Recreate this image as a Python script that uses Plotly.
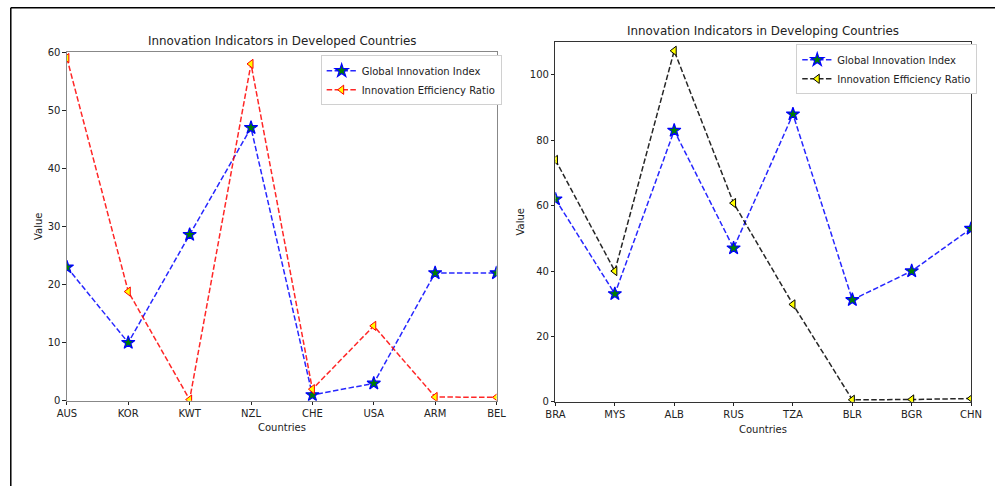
import plotly.graph_objects as go

W, H = 1006, 492

dev_countries = ["AUS", "KOR", "KWT", "NZL", "CHE", "USA", "ARM", "BEL"]
dev_gii = [23, 10, 28.6, 47, 1, 3, 22, 22]
dev_ier = [59, 18.8, 0.2, 58, 2, 12.9, 0.65, 0.6]

dvg_countries = ["BRA", "MYS", "ALB", "RUS", "TZA", "BLR", "BGR", "CHN"]
dvg_gii = [62, 33, 83, 47, 88, 31.2, 40, 53]
dvg_ier = [74, 40, 107.4, 60.8, 29.8, 0.6, 0.7, 1.0]

left_yticks = [0, 10, 20, 30, 40, 50, 60]
right_yticks = [0, 20, 40, 60, 80, 100]

FONT = "DejaVu Sans"
SX, SY = 0.98, 0.977  # observed capture scaling about the window centre


def px(x):
    p = W / 2 + (x - W / 2) / SX
    return min(max(p / W, 0), 1)


def py(y):
    p = H / 2 + (y - H / 2) / SY
    return min(max(1 - p / H, 0), 1)


fig = go.Figure()

dash = "5.5px,2.4px"
star = dict(symbol="star", size=10, color="green", line=dict(color="blue", width=1.2))

fig.add_trace(go.Scatter(
    x=dev_countries, y=dev_gii, mode="lines+markers", name="Global Innovation Index",
    line=dict(color="rgba(0,0,255,0.85)", width=1.5, dash=dash),
    marker=star, xaxis="x", yaxis="y", legend="legend"))
fig.add_trace(go.Scatter(
    x=dev_countries, y=dev_ier, mode="lines+markers", name="Innovation Efficiency Ratio",
    line=dict(color="rgba(255,0,0,0.85)", width=1.5, dash=dash),
    marker=dict(symbol="triangle-left", size=8, color="yellow", line=dict(color="red", width=1)),
    xaxis="x", yaxis="y", legend="legend"))

fig.add_trace(go.Scatter(
    x=dvg_countries, y=dvg_gii, mode="lines+markers", name="Global Innovation Index",
    line=dict(color="rgba(0,0,255,0.85)", width=1.5, dash=dash),
    marker=star, xaxis="x2", yaxis="y2", legend="legend2"))
fig.add_trace(go.Scatter(
    x=dvg_countries, y=dvg_ier, mode="lines+markers", name="Innovation Efficiency Ratio",
    line=dict(color="rgba(0,0,0,0.85)", width=1.5, dash=dash),
    marker=dict(symbol="triangle-left", size=8, color="yellow", line=dict(color="black", width=1)),
    xaxis="x2", yaxis="y2", legend="legend2"))

tickfont = dict(family=FONT, size=10, color="#222")


def xaxis(domain, anchor, spine):
    return dict(domain=domain, anchor=anchor, type="category", range=[0, 7],
                showgrid=False, zeroline=False, showline=True, linecolor=spine, linewidth=1,
                mirror=True, ticks="outside", ticklen=3.5, tickcolor="#222",
                tickfont=tickfont, fixedrange=True)


def yaxis(domain, anchor, rng, tv, spine):
    return dict(domain=domain, anchor=anchor, range=rng, tickvals=tv,
                showgrid=False, zeroline=False, showline=True, linecolor=spine, linewidth=1,
                mirror=True, ticks="outside", ticklen=3.5, tickcolor="#222",
                tickfont=tickfont, fixedrange=True)


legend_common = dict(font=dict(family=FONT, size=10, color="#222"), bgcolor="white",
                     bordercolor="#d0d0d0", borderwidth=1, xanchor="left", yanchor="top",
                     tracegroupgap=0, itemwidth=30)

fig.update_layout(
    width=W, height=H, margin=dict(l=0, r=0, t=0, b=0),
    paper_bgcolor="white", plot_bgcolor="white",
    xaxis=xaxis([px(67), px(497)], "y", "#888"),
    yaxis=yaxis([py(401), py(52)], "x", [0, 60], left_yticks, "#888"),
    xaxis2=xaxis([px(556), px(972)], "y2", "#333"),
    yaxis2=yaxis([py(402), py(42)], "x2", [0, 110], right_yticks, "#333"),
    legend=dict(x=px(321), y=py(55), **legend_common),
    legend2=dict(x=px(797), y=py(44), **legend_common),
    showlegend=True,
)

ann = []


def text(x, y, s, size=12, angle=0):
    ann.append(dict(x=px(x), y=py(y), xref="paper", yref="paper", text=s, showarrow=False,
                    font=dict(family=FONT, size=size, color="#222"), textangle=angle,
                    xanchor="center", yanchor="middle"))


text(282, 41, "Innovation Indicators in Developed Countries", 11.9)
text(764, 31, "Innovation Indicators in Developing Countries", 11.9)
text(282, 428, "Countries", 10)
text(764, 430, "Countries", 10)
text(38, 226, "Value", 10, -90)
text(521, 222, "Value", 10, -90)
fig.update_layout(annotations=ann)

fy = py(7.5)
fig.add_shape(type="line", xref="paper", yref="paper", x0=0.0008, x1=1, y0=fy, y1=fy,
              line=dict(color="black", width=1.5))
fig.add_shape(type="line", xref="paper", yref="paper", x0=0.0008, x1=0.0008, y0=fy, y1=0,
              line=dict(color="black", width=1.5))

fig.write_html("out.html", config={"displayModeBar": False},
               post_script="document.body.style.margin='0px';")
